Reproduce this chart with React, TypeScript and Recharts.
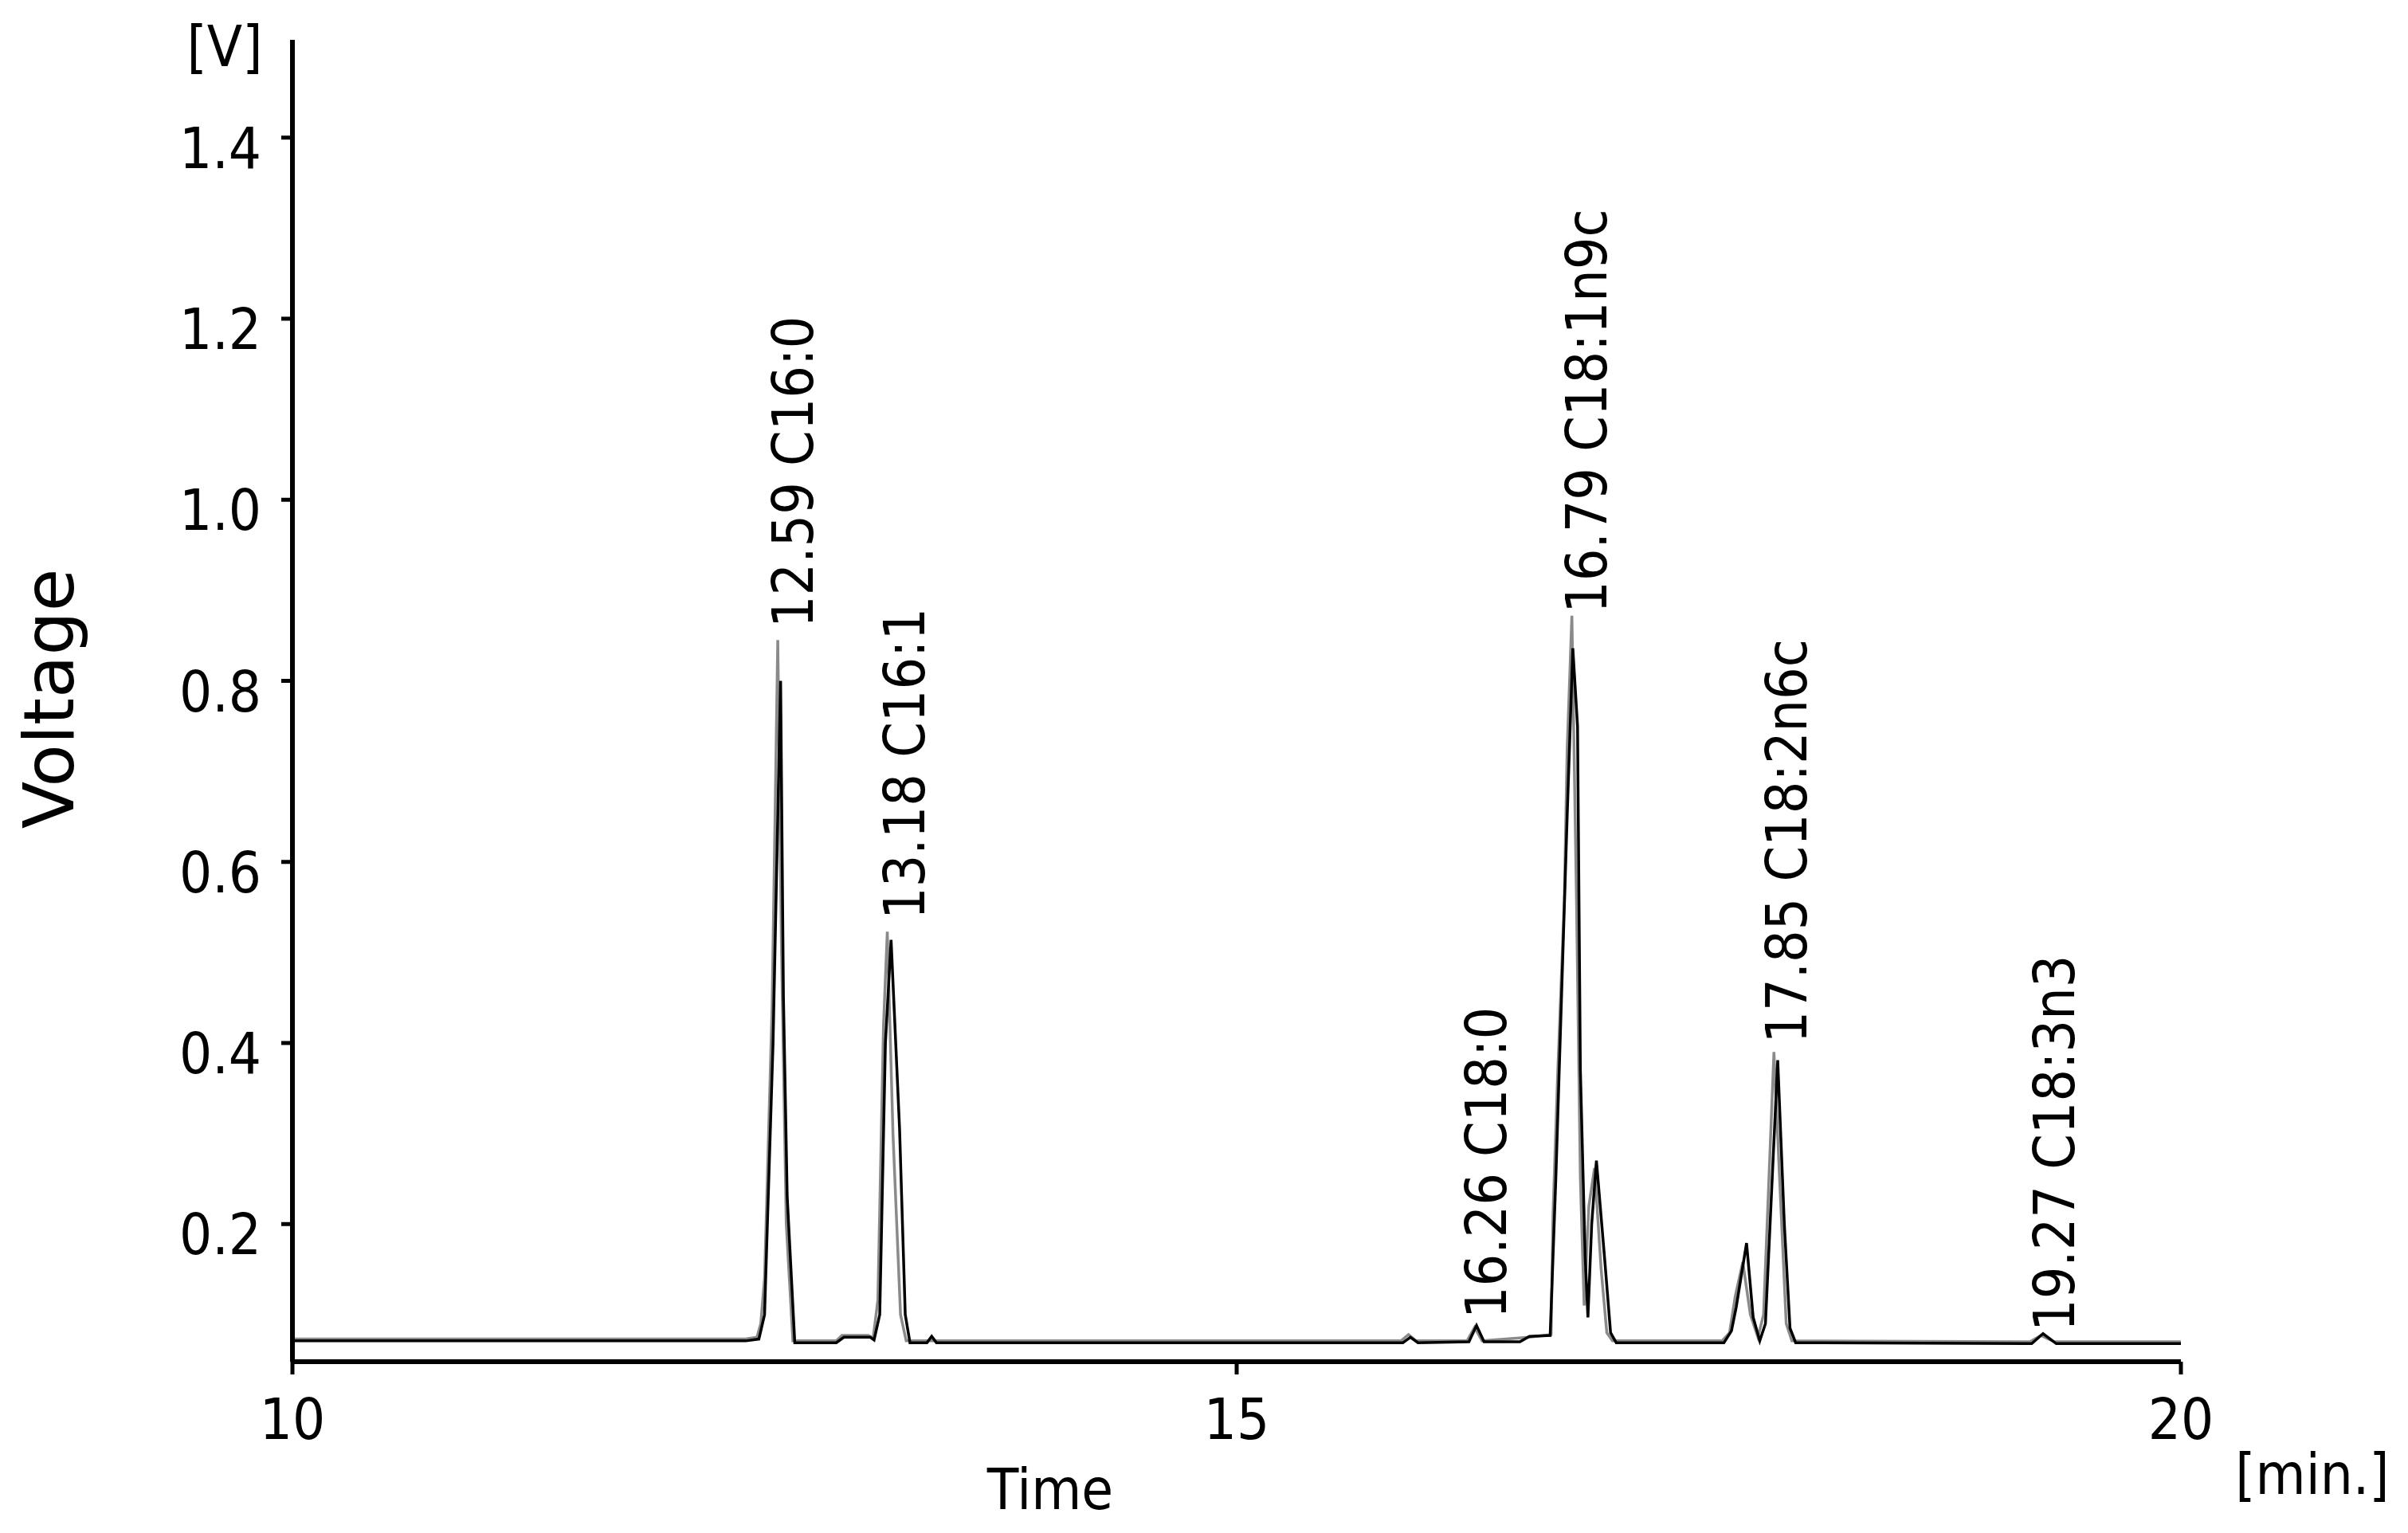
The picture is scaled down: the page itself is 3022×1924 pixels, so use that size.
import React from 'react';
import { ComposedChart, Line, Scatter, XAxis, YAxis, Label } from 'recharts';

// Retention time axis ticks [min.] and voltage ticks [V]
const xTicks = [10, 15, 20];
const yTicks = [0.2, 0.4, 0.6, 0.8, 1.0, 1.2, 1.4];

// Black chromatogram trace
const blackTimes = [
  10.0, 12.4, 12.47, 12.5, 12.545, 12.585, 12.6, 12.62, 12.66, 12.88, 12.92, 13.06,
  13.08, 13.11, 13.14, 13.17, 13.215, 13.245, 13.27, 13.36, 13.385, 13.41, 15.88, 15.92,
  15.96, 16.23, 16.27, 16.31, 16.5, 16.55, 16.66, 16.69, 16.72, 16.75, 16.78, 16.805,
  16.82, 16.845, 16.86, 16.88, 16.905, 16.95, 16.98, 17.01, 17.58, 17.62, 17.645, 17.7,
  17.735, 17.77, 17.8, 17.865, 17.9, 17.93, 17.96, 19.21, 19.27, 19.34, 20.0,
];
const blackVolts = [
  0.071, 0.071, 0.073, 0.1, 0.4, 0.8, 0.45, 0.23, 0.069, 0.069, 0.075, 0.075,
  0.072, 0.1, 0.4, 0.514, 0.305, 0.1, 0.069, 0.069, 0.076, 0.069, 0.069, 0.075,
  0.069, 0.07, 0.088, 0.07, 0.07, 0.076, 0.077, 0.25, 0.45, 0.65, 0.836, 0.75,
  0.37, 0.166, 0.097, 0.2, 0.27, 0.158, 0.08, 0.069, 0.069, 0.082, 0.108, 0.179,
  0.097, 0.071, 0.09, 0.381, 0.2, 0.085, 0.069, 0.068, 0.079, 0.068, 0.068,
];

// Grey chromatogram trace
const greyTimes = [
  10.0, 12.4, 12.46, 12.48, 12.5, 12.54, 12.57, 12.59, 12.615, 12.65, 12.88, 12.91,
  13.05, 13.075, 13.1, 13.13, 13.15, 13.18, 13.22, 13.25, 15.87, 15.91, 15.95, 16.22,
  16.26, 16.3, 16.55, 16.665, 16.675, 16.7, 16.735, 16.75, 16.775, 16.8, 16.82, 16.84,
  16.865, 16.895, 16.93, 16.96, 16.99, 17.57, 17.61, 17.64, 17.68, 17.72, 17.76, 17.79,
  17.845, 17.875, 17.91, 17.94, 19.2, 19.26, 19.33, 20.0,
];
const greyVolts = [
  0.073, 0.073, 0.075, 0.09, 0.14, 0.44, 0.845, 0.5, 0.2, 0.071, 0.071, 0.077,
  0.077, 0.074, 0.116, 0.42, 0.523, 0.3, 0.1, 0.071, 0.071, 0.078, 0.071, 0.071,
  0.086, 0.071, 0.075, 0.078, 0.21, 0.367, 0.558, 0.724, 0.872, 0.55, 0.25, 0.11,
  0.22, 0.262, 0.15, 0.08, 0.071, 0.071, 0.08, 0.12, 0.158, 0.1, 0.075, 0.1,
  0.39, 0.25, 0.09, 0.071, 0.07, 0.077, 0.07, 0.07,
];

// Peak annotations
const peakTimes = [12.59, 13.18, 16.26, 16.79, 17.85, 19.27];
const peakHeights = [0.855, 0.533, 0.092, 0.871, 0.396, 0.078];
const peakNames = ['12.59 C16:0', '13.18 C16:1', '16.26 C18:0', '16.79 C18:1n9c', '17.85 C18:2n6c', '19.27 C18:3n3'];

const blackData = blackTimes.map((t, i) => ({ t, v: blackVolts[i] }));
const greyData = greyTimes.map((t, i) => ({ t, v: greyVolts[i] }));
const peakData = peakTimes.map((t, i) => ({ t, v: peakHeights[i], name: peakNames[i] }));

const FONT = "'DejaVu Sans Condensed', 'DejaVu Sans', sans-serif";
const WIDE_FONT = "'DejaVu Sans', Verdana, sans-serif";

const YTick = (props: any) => {
  const { x, y, payload } = props;
  return (
    <text x={x} y={y + 13} textAnchor="end" dominantBaseline="central" fontFamily={FONT} fontSize={72} fill="#000">
      {Number(payload.value).toFixed(1)}
    </text>
  );
};

const XTick = (props: any) => {
  const { x, y, payload } = props;
  return (
    <text x={x} y={y + 56} textAnchor="middle" dominantBaseline="central" fontFamily={FONT} fontSize={72} fill="#000">
      {payload.value}
    </text>
  );
};

const PeakLabel = (props: any) => {
  const { cx, cy, payload } = props;
  if (cx == null || cy == null) return null;
  const x = cx + 15;
  const y = cy - 4;
  return (
    <text
      x={x}
      y={y}
      transform={`rotate(-90 ${x} ${y})`}
      textAnchor="start"
      dominantBaseline="central"
      fontFamily={FONT}
      fontSize={71}
      fill="#000"
    >
      {payload.name}
    </text>
  );
};

export default function App() {
  return (
    <div style={{ position: 'absolute', left: 0, top: 0, width: 3022, height: 1924, background: '#fff' }}>
      <ComposedChart width={3022} height={1924} margin={{ top: 50, right: 285, bottom: 0, left: 0 }}>
        <XAxis
          type="number"
          dataKey="t"
          domain={[10, 20]}
          ticks={xTicks}
          allowDataOverflow
          height={215}
          axisLine={{ stroke: '#000', strokeWidth: 6 }}
          tickLine={{ stroke: '#000', strokeWidth: 5 }}
          tickSize={16}
          tickMargin={0}
          tick={<XTick />}
        >
          <Label
            content={() => (
              <g>
                <text x={1318} y={1869} textAnchor="middle" dominantBaseline="central" fontFamily={FONT} fontSize={72} fill="#000">
                  Time
                </text>
                <text x={2902} y={1850} textAnchor="middle" dominantBaseline="central" fontFamily={FONT} fontSize={72} fill="#000">
                  [min.]
                </text>
              </g>
            )}
          />
        </XAxis>
        <YAxis
          type="number"
          dataKey="v"
          domain={[0.048, 1.508]}
          ticks={yTicks}
          allowDataOverflow
          width={367}
          axisLine={{ stroke: '#000', strokeWidth: 6 }}
          tickLine={{ stroke: '#000', strokeWidth: 5 }}
          tickSize={14}
          tickMargin={25}
          tick={<YTick />}
        >
          <Label
            content={() => (
              <g>
                <text
                  x={62}
                  y={877}
                  transform="rotate(-90 62 877)"
                  textAnchor="middle"
                  dominantBaseline="central"
                  fontFamily={WIDE_FONT}
                  fontSize={87}
                  fill="#000"
                >
                  Voltage
                </text>
                <text x={282} y={58} textAnchor="middle" dominantBaseline="central" fontFamily={FONT} fontSize={72} fill="#000">
                  [V]
                </text>
              </g>
            )}
          />
        </YAxis>
        <Line
          data={greyData}
          dataKey="v"
          type="linear"
          stroke="#8a8a8a"
          strokeWidth={3.5}
          dot={false}
          activeDot={false}
          isAnimationActive={false}
        />
        <Line
          data={blackData}
          dataKey="v"
          type="linear"
          stroke="#000"
          strokeWidth={3.5}
          dot={false}
          activeDot={false}
          isAnimationActive={false}
        />
        <Scatter data={peakData} dataKey="v" shape={<PeakLabel />} isAnimationActive={false} />
      </ComposedChart>
    </div>
  );
}
